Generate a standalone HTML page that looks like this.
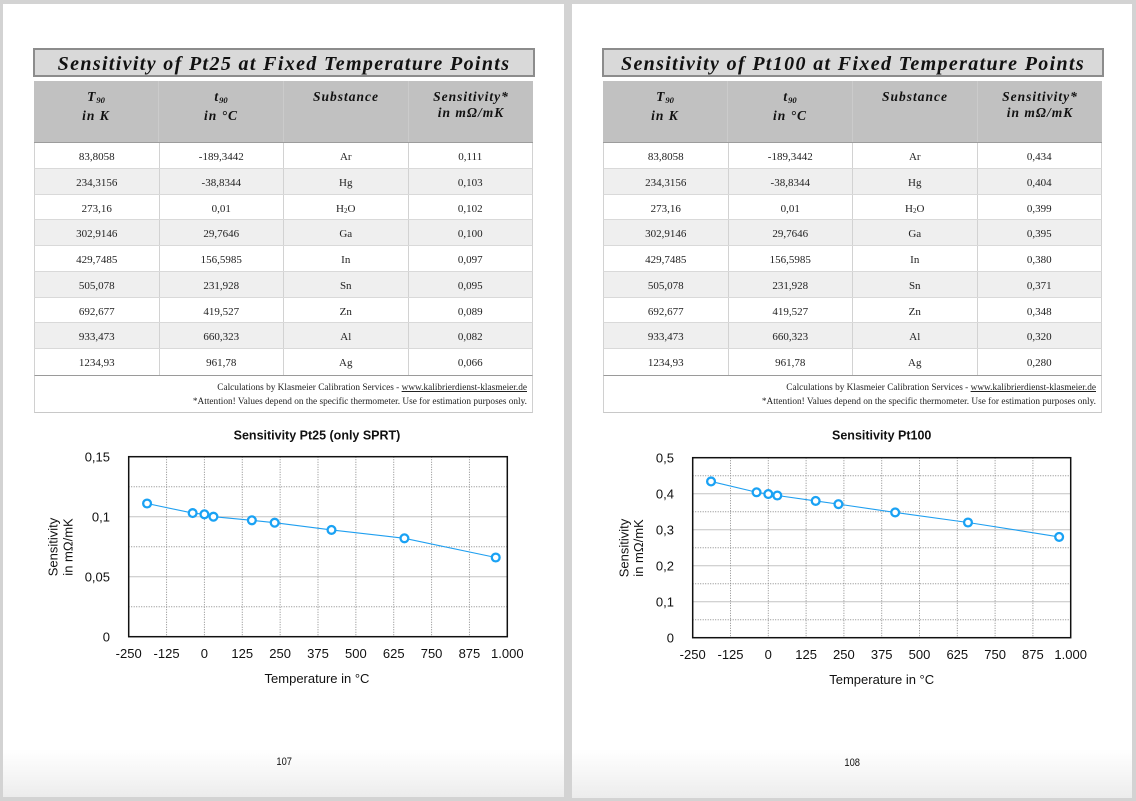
<!DOCTYPE html>
<html><head><meta charset="utf-8">
<style>
html,body{margin:0;padding:0;}
body{width:1136px;height:801px;background:#d3d3d3;position:relative;overflow:hidden;font-family:"Liberation Serif",serif;}
.page{position:absolute;background:linear-gradient(to bottom,#ffffff 0px,#ffffff 745px,#f6f6f6 770px,#ececec 100%);}
.p1{left:3px;top:4px;width:561px;height:793px;}
.p2{left:572px;top:4px;width:560px;height:794px;}
.title{position:absolute;left:30px;top:44px;width:502px;height:29px;box-sizing:border-box;border:2px solid #8c8c8c;background:#d9d9d9;text-align:center;font-weight:bold;font-style:italic;font-size:20px;letter-spacing:1.35px;line-height:29px;color:#111;white-space:nowrap;}
.hdr{position:absolute;left:31px;top:77px;width:499px;height:62px;background:#c1c1c1;border-bottom:1px solid #9c9c9c;box-sizing:border-box;display:flex;}
.hdr div{flex:1;border-right:1px solid #cbcbcb;text-align:center;font-weight:bold;font-style:italic;font-size:13.5px;letter-spacing:1px;line-height:16px;padding-top:8px;color:#111;box-sizing:border-box;}
.hdr div:last-child{border-right:none;}
.hdr sub{font-size:8.5px;vertical-align:-2px;letter-spacing:0;}
.row{position:absolute;left:31px;width:499px;height:25.75px;display:flex;box-sizing:border-box;border-bottom:1px solid #d9d9d9;border-left:1px solid #d2d2d2;border-right:1px solid #d2d2d2;}
.row div{flex:1;border-right:1px solid #d2d2d2;text-align:center;font-size:11px;line-height:25px;padding-top:2px;box-sizing:border-box;color:#222;}
.row div:last-child{border-right:none;}
.row.g{background:#efefef;}
.row sub{font-size:7px;vertical-align:-1px;}
.foot{position:absolute;left:31px;top:370.75px;width:499px;height:38.5px;box-sizing:border-box;border-top:1px solid #9a9a9a;border-left:1px solid #d0d0d0;border-right:1px solid #d0d0d0;border-bottom:1px solid #c8c8c8;text-align:right;padding-right:5px;padding-top:5px;font-size:9.3px;line-height:14px;color:#222;}
.foot u{text-decoration:underline;}
.pn{position:absolute;font-family:"Liberation Sans",sans-serif;font-size:11px;color:#111;transform:scaleX(0.85);}
svg{position:absolute;left:0;top:0;}
</style></head>
<body>

<div class="page p1">
  <div class="title">Sensitivity of Pt25 at Fixed Temperature Points</div>
  <div class="hdr">
    <div>T<sub>90</sub><br>in K</div>
    <div>t<sub>90</sub><br>in °C</div>
    <div>Substance</div>
    <div>Sensitivity*<br>in mΩ/mK</div>
  </div>
  <div class="row" style="top:139px"><div>83,8058</div><div>-189,3442</div><div>Ar</div><div>0,111</div></div>
  <div class="row g" style="top:164.75px"><div>234,3156</div><div>-38,8344</div><div>Hg</div><div>0,103</div></div>
  <div class="row" style="top:190.5px"><div>273,16</div><div>0,01</div><div>H<sub>2</sub>O</div><div>0,102</div></div>
  <div class="row g" style="top:216.25px"><div>302,9146</div><div>29,7646</div><div>Ga</div><div>0,100</div></div>
  <div class="row" style="top:242px"><div>429,7485</div><div>156,5985</div><div>In</div><div>0,097</div></div>
  <div class="row g" style="top:267.75px"><div>505,078</div><div>231,928</div><div>Sn</div><div>0,095</div></div>
  <div class="row" style="top:293.5px"><div>692,677</div><div>419,527</div><div>Zn</div><div>0,089</div></div>
  <div class="row g" style="top:319.25px"><div>933,473</div><div>660,323</div><div>Al</div><div>0,082</div></div>
  <div class="row" style="top:345px;border-bottom:none"><div>1234,93</div><div>961,78</div><div>Ag</div><div>0,066</div></div>
  <div class="foot">Calculations by Klasmeier Calibration Services - <u>www.kalibrierdienst-klasmeier.de</u><br>*Attention! Values depend on the specific thermometer. Use for estimation purposes only.</div>
  <div class="pn" style="left:272px;top:752px;">107</div>
</div>

<div class="page p2">
  <div class="title">Sensitivity of Pt100 at Fixed Temperature Points</div>
  <div class="hdr">
    <div>T<sub>90</sub><br>in K</div>
    <div>t<sub>90</sub><br>in °C</div>
    <div>Substance</div>
    <div>Sensitivity*<br>in mΩ/mK</div>
  </div>
  <div class="row" style="top:139px"><div>83,8058</div><div>-189,3442</div><div>Ar</div><div>0,434</div></div>
  <div class="row g" style="top:164.75px"><div>234,3156</div><div>-38,8344</div><div>Hg</div><div>0,404</div></div>
  <div class="row" style="top:190.5px"><div>273,16</div><div>0,01</div><div>H<sub>2</sub>O</div><div>0,399</div></div>
  <div class="row g" style="top:216.25px"><div>302,9146</div><div>29,7646</div><div>Ga</div><div>0,395</div></div>
  <div class="row" style="top:242px"><div>429,7485</div><div>156,5985</div><div>In</div><div>0,380</div></div>
  <div class="row g" style="top:267.75px"><div>505,078</div><div>231,928</div><div>Sn</div><div>0,371</div></div>
  <div class="row" style="top:293.5px"><div>692,677</div><div>419,527</div><div>Zn</div><div>0,348</div></div>
  <div class="row g" style="top:319.25px"><div>933,473</div><div>660,323</div><div>Al</div><div>0,320</div></div>
  <div class="row" style="top:345px;border-bottom:none"><div>1234,93</div><div>961,78</div><div>Ag</div><div>0,280</div></div>
  <div class="foot">Calculations by Klasmeier Calibration Services - <u>www.kalibrierdienst-klasmeier.de</u><br>*Attention! Values depend on the specific thermometer. Use for estimation purposes only.</div>
  <div class="pn" style="left:271px;top:753px;">108</div>
</div>

<svg width="1136" height="801" viewBox="0 0 1136 801" xmlns="http://www.w3.org/2000/svg" font-family="Liberation Sans, sans-serif">
  <!-- ===== LEFT CHART ===== -->
  <g>
    <text x="317" y="439.5" text-anchor="middle" font-size="12.5" font-weight="bold" fill="#111">Sensitivity Pt25 (only SPRT)</text>
    <g stroke="#c4c4c4" stroke-width="1">
      <line x1="128.7" y1="516.7" x2="507.3" y2="516.7"/>
      <line x1="128.7" y1="576.7" x2="507.3" y2="576.7"/>
    </g>
    <g stroke="#8a8a8a" stroke-width="1" stroke-dasharray="1,1.5">
      <line x1="128.7" y1="486.7" x2="507.3" y2="486.7"/>
      <line x1="128.7" y1="546.7" x2="507.3" y2="546.7"/>
      <line x1="128.7" y1="606.7" x2="507.3" y2="606.7"/>
      <line x1="166.56" y1="456.7" x2="166.56" y2="636.7"/>
      <line x1="204.42" y1="456.7" x2="204.42" y2="636.7"/>
      <line x1="242.28" y1="456.7" x2="242.28" y2="636.7"/>
      <line x1="280.14" y1="456.7" x2="280.14" y2="636.7"/>
      <line x1="318.0" y1="456.7" x2="318.0" y2="636.7"/>
      <line x1="355.86" y1="456.7" x2="355.86" y2="636.7"/>
      <line x1="393.72" y1="456.7" x2="393.72" y2="636.7"/>
      <line x1="431.58" y1="456.7" x2="431.58" y2="636.7"/>
      <line x1="469.44" y1="456.7" x2="469.44" y2="636.7"/>
    </g>
    <rect x="128.7" y="456.7" width="378.6" height="180" fill="none" stroke="#111" stroke-width="1.5"/>
    <g font-size="13" fill="#111" text-anchor="end">
      <text x="110" y="461.5">0,15</text>
      <text x="110" y="521.5">0,1</text>
      <text x="110" y="581.5">0,05</text>
      <text x="110" y="641.5">0</text>
    </g>
    <g font-size="13" fill="#111" text-anchor="middle">
      <text x="128.7" y="658">-250</text>
      <text x="166.56" y="658">-125</text>
      <text x="204.42" y="658">0</text>
      <text x="242.28" y="658">125</text>
      <text x="280.14" y="658">250</text>
      <text x="318.0" y="658">375</text>
      <text x="355.86" y="658">500</text>
      <text x="393.72" y="658">625</text>
      <text x="431.58" y="658">750</text>
      <text x="469.44" y="658">875</text>
      <text x="507.3" y="658">1.000</text>
    </g>
    <text x="317" y="683" text-anchor="middle" font-size="13" fill="#111">Temperature in °C</text>
    <text transform="translate(57.5,547) rotate(-90)" text-anchor="middle" font-size="13" fill="#111">Sensitivity</text>
    <text transform="translate(72.5,547) rotate(-90)" text-anchor="middle" font-size="13" fill="#111">in mΩ/mK</text>
    <polyline fill="none" stroke="#1f9ff0" stroke-width="1.1" points="147.07,503.5 192.66,513.1 204.42,514.3 213.43,516.7 251.85,520.3 274.67,522.7 331.49,529.9 404.42,538.3 495.72,557.5"/>
    <g fill="#fff" stroke="#1aa2f4" stroke-width="2.3">
      <circle cx="147.07" cy="503.5" r="3.9"/>
      <circle cx="192.66" cy="513.1" r="3.9"/>
      <circle cx="204.42" cy="514.3" r="3.9"/>
      <circle cx="213.43" cy="516.7" r="3.9"/>
      <circle cx="251.85" cy="520.3" r="3.9"/>
      <circle cx="274.67" cy="522.7" r="3.9"/>
      <circle cx="331.49" cy="529.9" r="3.9"/>
      <circle cx="404.42" cy="538.3" r="3.9"/>
      <circle cx="495.72" cy="557.5" r="3.9"/>
    </g>
  </g>

  <!-- ===== RIGHT CHART ===== -->
  <g>
    <text x="881.7" y="439.5" text-anchor="middle" font-size="12.5" font-weight="bold" fill="#111">Sensitivity Pt100</text>
    <g stroke="#c4c4c4" stroke-width="1">
      <line x1="692.7" y1="493.7" x2="1070.7" y2="493.7"/>
      <line x1="692.7" y1="529.7" x2="1070.7" y2="529.7"/>
      <line x1="692.7" y1="565.7" x2="1070.7" y2="565.7"/>
      <line x1="692.7" y1="601.7" x2="1070.7" y2="601.7"/>
    </g>
    <g stroke="#8a8a8a" stroke-width="1" stroke-dasharray="1,1.5">
      <line x1="692.7" y1="475.7" x2="1070.7" y2="475.7"/>
      <line x1="692.7" y1="511.7" x2="1070.7" y2="511.7"/>
      <line x1="692.7" y1="547.7" x2="1070.7" y2="547.7"/>
      <line x1="692.7" y1="583.7" x2="1070.7" y2="583.7"/>
      <line x1="692.7" y1="619.7" x2="1070.7" y2="619.7"/>
      <line x1="730.5" y1="457.7" x2="730.5" y2="637.7"/>
      <line x1="768.3" y1="457.7" x2="768.3" y2="637.7"/>
      <line x1="806.1" y1="457.7" x2="806.1" y2="637.7"/>
      <line x1="843.9" y1="457.7" x2="843.9" y2="637.7"/>
      <line x1="881.7" y1="457.7" x2="881.7" y2="637.7"/>
      <line x1="919.5" y1="457.7" x2="919.5" y2="637.7"/>
      <line x1="957.3" y1="457.7" x2="957.3" y2="637.7"/>
      <line x1="995.1" y1="457.7" x2="995.1" y2="637.7"/>
      <line x1="1032.9" y1="457.7" x2="1032.9" y2="637.7"/>
    </g>
    <rect x="692.7" y="457.7" width="378" height="180" fill="none" stroke="#111" stroke-width="1.5"/>
    <g font-size="13" fill="#111" text-anchor="end">
      <text x="674" y="462.5">0,5</text>
      <text x="674" y="498.5">0,4</text>
      <text x="674" y="534.5">0,3</text>
      <text x="674" y="570.5">0,2</text>
      <text x="674" y="606.5">0,1</text>
      <text x="674" y="642.5">0</text>
    </g>
    <g font-size="13" fill="#111" text-anchor="middle">
      <text x="692.7" y="659">-250</text>
      <text x="730.5" y="659">-125</text>
      <text x="768.3" y="659">0</text>
      <text x="806.1" y="659">125</text>
      <text x="843.9" y="659">250</text>
      <text x="881.7" y="659">375</text>
      <text x="919.5" y="659">500</text>
      <text x="957.3" y="659">625</text>
      <text x="995.1" y="659">750</text>
      <text x="1032.9" y="659">875</text>
      <text x="1070.7" y="659">1.000</text>
    </g>
    <text x="881.7" y="684" text-anchor="middle" font-size="13" fill="#111">Temperature in °C</text>
    <text transform="translate(628.5,548) rotate(-90)" text-anchor="middle" font-size="13" fill="#111">Sensitivity</text>
    <text transform="translate(643,548) rotate(-90)" text-anchor="middle" font-size="13" fill="#111">in mΩ/mK</text>
    <polyline fill="none" stroke="#1f9ff0" stroke-width="1.1" points="711.04,481.46 756.56,492.26 768.3,494.06 777.3,495.5 815.66,500.9 838.44,504.14 895.17,512.42 967.98,522.5 1059.14,536.9"/>
    <g fill="#fff" stroke="#1aa2f4" stroke-width="2.3">
      <circle cx="711.04" cy="481.46" r="3.9"/>
      <circle cx="756.56" cy="492.26" r="3.9"/>
      <circle cx="768.3" cy="494.06" r="3.9"/>
      <circle cx="777.3" cy="495.5" r="3.9"/>
      <circle cx="815.66" cy="500.9" r="3.9"/>
      <circle cx="838.44" cy="504.14" r="3.9"/>
      <circle cx="895.17" cy="512.42" r="3.9"/>
      <circle cx="967.98" cy="522.5" r="3.9"/>
      <circle cx="1059.14" cy="536.9" r="3.9"/>
    </g>
  </g>
</svg>
</body></html>
